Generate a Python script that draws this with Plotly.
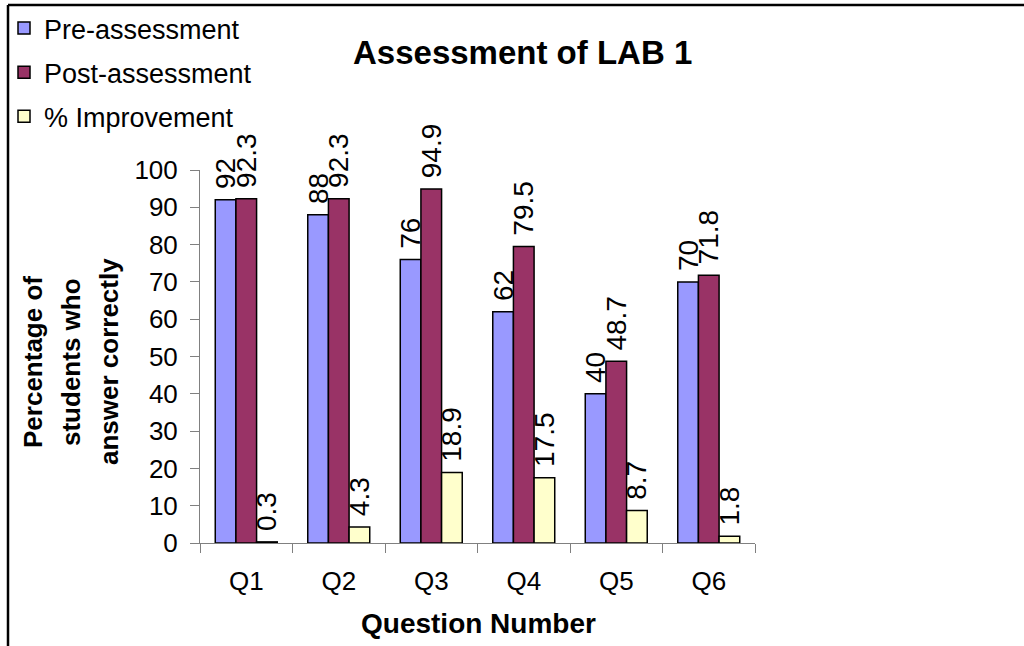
import plotly.graph_objects as go

categories = ["Q1", "Q2", "Q3", "Q4", "Q5", "Q6"]
pre_assessment = [92, 88, 76, 62, 40, 70]
post_assessment = [92.3, 92.3, 94.9, 79.5, 48.7, 71.8]
improvement = [0.3, 4.3, 18.9, 17.5, 8.7, 1.8]

series_names = ["Pre-assessment", "Post-assessment", "% Improvement"]
series_values = [pre_assessment, post_assessment, improvement]
series_colors = ["#9999FF", "#993366", "#FFFFCC"]
y_title_lines = ["Percentage of", "students who", "answer correctly"]

W, H = 1024, 646
L, R, T, B = 200, 755, 170, 543


def px_x(x):
    return (x - L) / (R - L)


def px_y(y):
    return (B - y) / (B - T)


FONT = "Liberation Sans, Arial, sans-serif"

fig = go.Figure()
for i, (name, vals, col) in enumerate(zip(series_names, series_values, series_colors)):
    fig.add_trace(go.Bar(
        x=categories, y=vals, name=name,
        marker=dict(color=col, line=dict(color="black", width=1.5)),
        text=[f"\u00a0{v:g}" for v in vals],
        textposition="outside", textangle=-90,
        textfont=dict(family=FONT, size=28, color="black"),
        constraintext="none", cliponaxis=False,
        legendgroup=f"g{i}",
    ))

annotations = [
    dict(text="<b>Assessment of LAB 1</b>", xref="paper", yref="paper",
         x=px_x(522), y=px_y(52), xanchor="center", yanchor="middle",
         showarrow=False, font=dict(family=FONT, size=33, color="black")),
    dict(text="<b>Question Number</b>", xref="paper", yref="paper",
         x=px_x(478), y=px_y(623), xanchor="center", yanchor="middle",
         showarrow=False, font=dict(family=FONT, size=28, color="black")),
]
for line, xc in zip(y_title_lines, [33, 71, 109]):
    annotations.append(dict(
        text=f"<b>{line}</b>", xref="paper", yref="paper",
        x=px_x(xc), y=px_y(362), xanchor="center", yanchor="middle",
        textangle=-90, showarrow=False,
        font=dict(family=FONT, size=26, color="black"),
    ))

fig.update_layout(
    width=W, height=H,
    margin=dict(l=L, r=W - R, t=T, b=H - B, pad=0, autoexpand=False),
    paper_bgcolor="white", plot_bgcolor="white",
    barmode="group", bargap=0.33, bargroupgap=0,
    font=dict(family=FONT, color="black"),
    showlegend=True,
    legend=dict(
        x=px_x(4), y=px_y(4), xanchor="left", yanchor="top",
        font=dict(family=FONT, size=27, color="black"),
        tracegroupgap=6, bgcolor="rgba(0,0,0,0)",
    ),
    xaxis=dict(
        showline=True, linecolor="#808080", linewidth=1,
        ticks="outside", tickson="boundaries", ticklen=9, tickcolor="#808080",
        tickfont=dict(family=FONT, size=26, color="black"),
        ticklabelstandoff=15,
        showgrid=False, zeroline=False,
    ),
    yaxis=dict(
        range=[0, 100], dtick=10,
        showline=True, linecolor="#808080", linewidth=1,
        ticks="outside", ticklen=9, tickcolor="#808080",
        tickfont=dict(family=FONT, size=26, color="black"),
        ticklabelstandoff=7,
        showgrid=False, zeroline=False,
    ),
    annotations=annotations,
    shapes=[
        dict(type="line", xref="paper", yref="paper",
             x0=px_x(8), x1=px_x(8), y0=px_y(5), y1=px_y(660),
             line=dict(color="black", width=2.5)),
        dict(type="line", xref="paper", yref="paper",
             x0=px_x(8), x1=px_x(1040), y0=px_y(5), y1=px_y(5),
             line=dict(color="black", width=2.5)),
    ],
)

fig.write_html(
    "out.html",
    config={"displayModeBar": False},
    post_script="document.body.style.margin='0';document.body.style.overflow='hidden';",
)
